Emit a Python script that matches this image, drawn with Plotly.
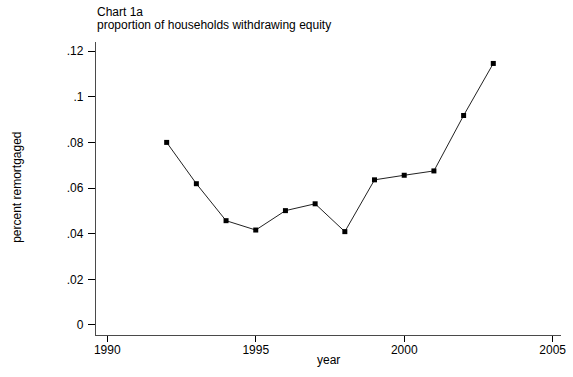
import plotly.graph_objects as go

# Share of households taking equity out when remortgaging, by year
years = [1992, 1993, 1994, 1995, 1996, 1997, 1998, 1999, 2000, 2001, 2002, 2003]
share_remortgaged = [0.0800, 0.0619, 0.0457, 0.0416, 0.0501, 0.0531, 0.0409,
                     0.0636, 0.0656, 0.0675, 0.0918, 0.1146]

x_ticks = [1990, 1995, 2000, 2005]
y_ticks = [0, 0.02, 0.04, 0.06, 0.08, 0.10, 0.12]
y_tick_labels = ["0", ".02", ".04", ".06", ".08", ".1", ".12"]

FONT = "Liberation Sans, Arial, sans-serif"
AXIS_COLOR = "#4a4a4a"

fig = go.Figure()
fig.add_trace(go.Scatter(
    x=years, y=share_remortgaged, mode="lines+markers",
    line=dict(color="#222222", width=1),
    marker=dict(symbol="square", size=5, color="#000000"),
    showlegend=False,
))

L, R, T, B = 96, 7, 42, 42
W, H = 573, 377
plot_h = H - T - B
plot_w = W - L - R

def py(pix):
    # pixel row -> paper y coordinate
    return 1 + (T - pix) / plot_h

def px(pix):
    # pixel column -> paper x coordinate
    return (pix - L) / plot_w

fig.update_layout(
    width=W, height=H,
    margin=dict(l=L, r=R, t=T, b=B),
    paper_bgcolor="white", plot_bgcolor="white",
    font=dict(family=FONT, size=12, color="#000000"),
    xaxis=dict(
        range=[1989.62, 2005.28], tickvals=x_ticks,
        showgrid=False, zeroline=False, showline=True,
        linecolor=AXIS_COLOR, linewidth=1.3,
        ticks="outside", ticklen=6, tickwidth=1, tickcolor="#000000",
        tickfont=dict(size=12), ticklabelstandoff=-3,
    ),
    yaxis=dict(
        range=[-0.0044, 0.124], tickvals=y_ticks, ticktext=y_tick_labels,
        showgrid=False, zeroline=False, showline=True,
        linecolor=AXIS_COLOR, linewidth=1.3,
        ticks="outside", ticklen=7, tickwidth=1, tickcolor="#000000",
        tickfont=dict(size=12), ticklabelstandoff=2,
    ),
    annotations=[
        dict(text="Chart 1a", xref="paper", yref="paper",
             x=0, y=py(11.5), xanchor="left", yanchor="middle",
             showarrow=False, borderpad=0, font=dict(size=12)),
        dict(text="proportion of households withdrawing equity",
             xref="paper", yref="paper",
             x=0, y=py(25.5), xanchor="left", yanchor="middle",
             showarrow=False, borderpad=0, font=dict(size=12)),
        dict(text="year", xref="paper", yref="paper",
             x=0.5, y=py(360), xanchor="center", yanchor="middle",
             showarrow=False, font=dict(size=12)),
        dict(text="percent remortgaged", xref="paper", yref="paper",
             x=px(16), y=py(187), xanchor="center", yanchor="middle",
             textangle=-90, showarrow=False, font=dict(size=12)),
    ],
)

fig.write_html("out.html")
